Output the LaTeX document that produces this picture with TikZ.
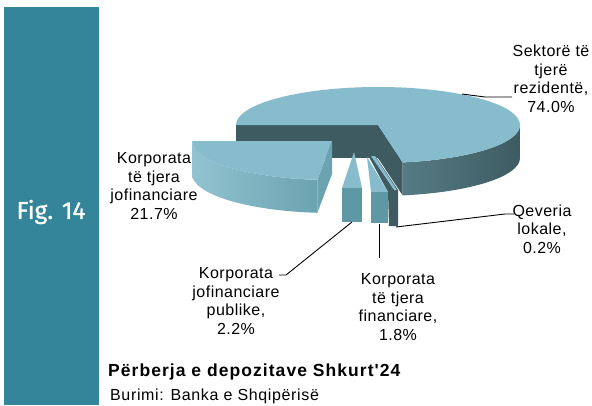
\documentclass[tikz,border=0pt]{standalone}
\usepackage{fontspec}
\setmainfont{Liberation Sans}
\newfontfamily\figfont{Fira Sans}[FakeBold=0.8]
\newfontfamily\lblfont{Liberation Sans}[LetterSpace=3]
\newfontfamily\srcfont{Liberation Sans}[LetterSpace=4]
\newfontfamily\capfont{Liberation Sans}[LetterSpace=6]
\definecolor{barteal}{HTML}{348599}
\definecolor{pietop}{HTML}{86BCCB}
\definecolor{piedark}{HTML}{3E5B62}
\definecolor{piefront}{HTML}{5F98A5}
\tikzset{
	lbl/.style={font=\lblfont\fontsize{16}{18.5}\selectfont, align=center, inner sep=0pt},
	leader/.style={draw=black, line width=0.9pt},
}
\begin{document}
\begin{tikzpicture}[x=1pt, y=-1pt]
	\useasboundingbox (0,0) rectangle (592,405);
	\fill[white] (0,0) rectangle (592,405);
	\fill[barteal] (4,7) rectangle (99,405);
	\node[text=white, font=\figfont\fontsize{24.5}{28}\selectfont] (fig) at (51,212) {Fig. 14};

	\fill[piedark] (378,125) -- (236,125) -- (236,158) -- (378,158) -- cycle;
	\fill[piedark] (378,125) -- +(80:142 and 38) -- ++(80:142 and 38) -- ++(0,33) -- (378,158) -- cycle;
	\shade[left color=piedark!60!pietop, right color=piedark] (378,125) ++(80:142 and 38) arc[start angle=80, end angle=0, x radius=142, y radius=38] -- ++(0,33) arc[start angle=0, end angle=80, x radius=142, y radius=38] -- cycle;
	\fill[pietop] (378,125) -- +(80:142 and 38) arc[start angle=80, end angle=-180, x radius=142, y radius=38] -- cycle;

	\fill[piedark] (369,157) -- (376,157) -- (398,190) -- (398,226) -- (389,226) -- (388,192) -- cycle;
	\fill[pietop] (371,156) -- (375,156) -- (397,190) -- (394,190) -- cycle;
	\fill[pietop] (367,157) -- (388,192) -- (371,192) -- cycle;
	\fill[piefront] (371,192) rectangle (388,223);
	\fill[pietop] (354,152) -- (362,188) -- (342,188) -- cycle;
	\fill[piefront] (342,188) rectangle (362,222);

	\fill[piefront!70!pietop] (332,141) -- +(96:140 and 39) -- ++(96:140 and 39) -- ++(0,33) -- (332,174) -- cycle;
	\shade[left color=pietop!90!white, right color=piefront!80!pietop] (332,141) ++(180:140 and 39) arc[start angle=180, end angle=96, x radius=140, y radius=39] -- ++(0,33) arc[start angle=96, end angle=180, x radius=140, y radius=39] -- cycle;
	\fill[pietop] (332,141) -- +(180:140 and 39) arc[start angle=180, end angle=96, x radius=140, y radius=39] -- cycle;

	\node[lbl] (l74) at (551,79) {Sektorë të\\tjerë\\rezidentë,\\74.0\%};
	\node[lbl] (l217) at (154,186) {Korporata\\të tjera\\jofinanciare\\21.7\%};
	\node[lbl] (l22) at (236,301) {Korporata\\jofinanciare\\publike,\\2.2\%};
	\node[lbl] (l18) at (398,307) {Korporata\\të tjera\\financiare,\\1.8\%};
	\node[lbl] (l02) at (542,229) {Qeveria\\lokale,\\0.2\%};

	\coordinate (p74) at (462,94);
	\coordinate (e74) at (512,97);
	\coordinate (p22) at (352,222);
	\coordinate (e22) at (279,275);
	\coordinate (p18) at (379,224);
	\coordinate (e18) at (379,258);
	\coordinate (p02) at (396,227);
	\coordinate (e02) at (514,214);
	\draw[leader] (p74) -- (485,97) -- (e74);
	\draw[leader] (p22) -- (286,275) -- (e22);
	\draw[leader] (p18) -- (e18);
	\draw[leader] (p02) -- (505,214) -- (e02);

	\node[font=\capfont\bfseries\fontsize{17.5}{20}\selectfont, anchor=base west, inner sep=0pt] (cap) at (108,376) {Përberja e depozitave Shkurt'24};
	\node[font=\srcfont\fontsize{16}{18}\selectfont, anchor=base west, inner sep=0pt] (src) at (110,400) {Burimi: Banka e Shqipërisë};
\end{tikzpicture}
\end{document}
